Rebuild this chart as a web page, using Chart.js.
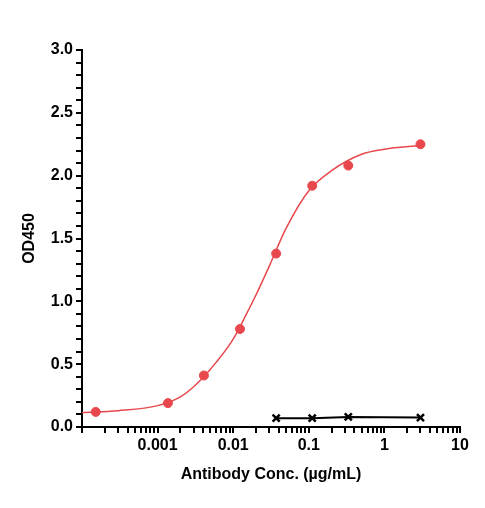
<!DOCTYPE html>
<html><head><script src="https://cdn.jsdelivr.net/npm/chart.js@4"></script>
<style>html,body{margin:0;padding:0;background:#fff}#w{width:485px;height:508px}</style></head>
<body><div id="w"><canvas id="c"></canvas></div>
<script>
const concs=[0.000152,0.00137,0.0041,0.0123,0.037,0.111,0.333,3];
const od=[0.12,0.19,0.41,0.78,1.38,1.92,2.08,2.25];
const ctlConcs=[0.037,0.111,0.333,3];
const ctlOd=[0.07,0.07,0.08,0.075];
const fitX=[0.0001,0.0003,0.001,0.002,0.003,0.005,0.01,0.015,0.02,0.03,0.05,0.1,0.2,0.5,1,3];
const fitY=[0.115,0.13,0.17,0.24,0.32,0.46,0.70,0.90,1.05,1.28,1.58,1.88,2.04,2.17,2.21,2.24];
const xLabels=[0.001,0.01,0.1,1,10];
const red='#e8484d';
new Chart(document.getElementById('c'),{
type:'scatter',
data:{datasets:[
{data:fitX.map((x,i)=>({x,y:fitY[i]})),showLine:true,borderColor:red,borderWidth:1.5,pointRadius:0,cubicInterpolationMode:'monotone'},
{data:concs.map((x,i)=>({x,y:od[i]})),backgroundColor:red,borderColor:red,pointRadius:4.5},
{data:ctlConcs.map((x,i)=>({x,y:ctlOd[i]})),showLine:true,tension:0,borderColor:'#000',borderWidth:2,pointStyle:'crossRot',pointRadius:5,pointBorderWidth:2.5,backgroundColor:'#000'}
]},
options:{responsive:true,maintainAspectRatio:false,animation:false,
layout:{padding:{top:50,right:25,left:0,bottom:20}},
plugins:{legend:{display:false},tooltip:{enabled:false}},
scales:{
x:{type:'logarithmic',min:0.0001,max:10,
 afterFit:s=>{s.height=61},
 afterBuildTicks:s=>{const t=[];for(let e=-4;e<1;e++)for(let m=1;m<10;m++)t.push({value:m*Math.pow(10,e)});t.push({value:10});s.ticks=t;},
 ticks:{autoSkip:false,maxRotation:0,color:'#000',font:{family:'Liberation Sans',weight:'bold',size:16},
  callback:(v)=>{const l=xLabels.find(a=>Math.abs(a-v)/a<1e-6);return l===undefined?'':String(l);}},
 grid:{drawOnChartArea:false,color:'#000',lineWidth:2,tickLength:6},
 border:{color:'#000',width:2},
 title:{display:true,text:'Antibody Conc. (µg/mL)',color:'#000',font:{family:'Liberation Sans',weight:'bold',size:16},padding:{top:4}}},
y:{min:0,max:3,
 afterFit:s=>{s.width=82},
 afterBuildTicks:s=>{const t=[];for(let i=0;i<=30;i++)t.push({value:i/10});s.ticks=t;},
 ticks:{autoSkip:false,color:'#000',font:{family:'Liberation Sans',weight:'bold',size:16},
  callback:(v)=>{const k=Math.round(v*10);return k%5===0?(k/10).toFixed(1):'';}},
 grid:{drawOnChartArea:false,color:'#000',lineWidth:2,tickLength:6},
 border:{color:'#000',width:2},
 title:{display:true,text:'OD450',color:'#000',font:{family:'Liberation Sans',weight:'bold',size:16},padding:{top:20,bottom:6}}}
}}});
</script></body></html>
